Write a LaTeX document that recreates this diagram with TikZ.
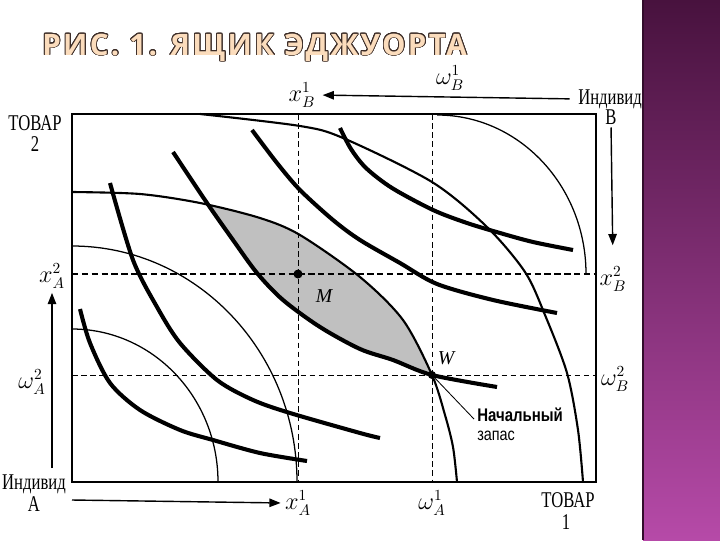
\documentclass[tikz,border=0pt]{standalone}
\usepackage{fontspec}
\usepackage[copies]{contour}
\usetikzlibrary{arrows.meta, positioning}
\setmainfont{Liberation Serif}
\newfontfamily\figfont{Liberation Serif}[FakeStretch=0.74]
\newfontfamily\notefont{Liberation Sans}[FakeStretch=0.82]
\newfontfamily\titlefont{Open Sans}[LetterSpace=8]
\definecolor{bandtop}{RGB}{72,18,62}
\definecolor{bandbot}{RGB}{182,74,168}
\definecolor{titlefill}{RGB}{251,220,188}
\definecolor{titleedge}{RGB}{60,45,40}
\definecolor{lensgray}{RGB}{192,192,192}
\contourlength{0.6pt}
\contournumber{24}

\begin{document}
\begin{tikzpicture}[x=0.025cm, y=-0.025cm,
    thinc/.style={line width=0.9pt},
    medc/.style={line width=1.5pt},
    thickc/.style={line width=2.9pt},
    guide/.style={line width=0.6pt, dash pattern=on 4pt off 2.5pt},
    guidebold/.style={line width=1.1pt, dash pattern=on 4.5pt off 2.5pt},
    axarrow/.style={line width=1pt, -{Triangle[length=8pt,width=6pt]}},
    lbl/.style={font=\figfont\fontsize{16}{18}\selectfont, inner sep=0pt, align=center},
    sym/.style={font=\fontsize{16}{18}\selectfont, inner sep=1pt},
    note/.style={font=\notefont\fontsize{13.5}{15}\selectfont, inner sep=0pt, anchor=west},
]
\useasboundingbox (0,0) rectangle (720,540);

% title
\node[anchor=base west, inner sep=0pt, font=\titlefont\bfseries\fontsize{21}{24}\selectfont]
    (title) at (42,55) {\textcolor{titlefill}{\contour{titleedge}{РИС. 1. ЯЩИК ЭДЖУОРТА}}};

% box corners and guide positions
\coordinate (OA) at (72,482);
\coordinate (OB) at (596,114);
\coordinate (M) at (298,274);
\coordinate (W) at (432,375);

% shaded lens between the two curves through W
\begin{scope}
  \clip plot[smooth] coordinates {(173,152) (207,203) (233,240) (257,273) (283,300) (320,327) (360,349) (393,360) (432,375) (497,387)}
        -- (600,387) -- (600,100) -- (173,100) -- cycle;
  \fill[lensgray] plot[smooth] coordinates {(72,192) (140,194) (200,203) (260,218) (300,235) (360,277) (403,320) (432,375) (445,415) (453,447) (457,482)}
        -- (72,482) -- cycle;
\end{scope}

% guides
\draw[guide] (M |- OB) -- (M |- OA);
\draw[guide] (W |- OB) -- (W |- OA);
\draw[guidebold] (OA |- M) -- (OB |- M);
\draw[guide] (OA |- W) -- (OB |- W);

% box
\draw[line width=1pt] (OA) rectangle (OB);

% curves of B
\draw[medc] plot[smooth] coordinates {(200,114) (300,126) (343,138) (432,182) (487,227) (525,272) (545,315) (567,373) (578,430) (583,482)};
\draw[thinc] (437,115) arc[start angle=-90, end angle=0, x radius=149, y radius=159];
\draw[medc] plot[smooth] coordinates {(72,192) (140,194) (200,203) (260,218) (300,235) (360,277) (403,320) (432,375) (445,415) (453,447) (457,482)};
\draw[thinc] (297,482) arc[start angle=0, end angle=-90, x radius=225, y radius=236];
\draw[thinc] (218,482) arc[start angle=0, end angle=-90, x radius=146, y radius=153];

% curves of A
\draw[thickc] plot[smooth] coordinates {(80,309) (90,343) (110,383) (140,410) (180,430) (213,440) (260,453) (307,461)};
\draw[thickc] plot[smooth] coordinates {(110,183) (133,260) (157,307) (180,343) (217,380) (253,400) (290,413) (360,433) (380,438)};
\draw[thickc] plot[smooth] coordinates {(173,152) (207,203) (233,240) (257,273) (283,300) (320,327) (360,349) (393,360) (432,375) (497,387)};
\draw[thickc] plot[smooth] coordinates {(252,130) (277,163) (300,190) (333,220) (360,240) (400,263) (437,284) (493,300) (557,313)};
\draw[thickc] plot[smooth] coordinates {(340,128) (351,149) (366,168) (392,188) (433,210) (467,223) (500,233) (533,242) (573,250)};

% points
\fill (M) circle (4.5);
\fill (W) circle (4);
\node[sym, font=\fontsize{14}{16}\selectfont\itshape] (Mlbl) at (324,296) {M};
\node[sym, font=\fontsize{14}{16}\selectfont\itshape] (Wlbl) at (446,358) {W};

% endowment note
\node[note, font=\notefont\bfseries\fontsize{13}{15}\selectfont] (endow1) at (477,415) {Начальный};
\node[note, font=\notefont\fontsize{12.5}{14}\selectfont] (endow2) at (477,436) {запас};
\draw[line width=0.6pt, shorten >=3pt] (W) -- (endow1.south west);

% labels of A
\node[lbl] (good2) at (35,123) {ТОВАР};
\node[lbl] (good2n) at (35,144) {2};
\node[lbl] (indA) at (34,484) {Индивид};
\node[lbl] (indAn) at (34,504) {А};
\node[sym] (xA2) at (52,276) {$x^2_A$};
\node[sym] (wA2) at (32,382) {$\omega^2_A$};
\node[sym] (xA1) at (298,503) {$x^1_A$};
\node[sym] (wA1) at (432,503) {$\omega^1_A$};
\node[lbl] (good1) at (568,500) {ТОВАР};
\node[lbl] (good1n) at (566,522) {1};
\coordinate (upA) at (52,468);
\coordinate (rtA) at (72,500);
\draw[axarrow, shorten >=2pt] (upA) -- (xA2.south);
\draw[axarrow, shorten >=2pt] (rtA) -- (xA1.west);

% labels of B
\node[sym] (xB1) at (302,95) {$x^1_B$};
\node[sym] (wB1) at (450,78) {$\omega^1_B$};
\node[lbl, anchor=west] (indB) at (578,99) {Индивид};
\node[lbl] (indBn) at (611,117) {В};
\node[sym] (xB2) at (613,279) {$x^2_B$};
\node[sym] (wB2) at (615,379) {$\omega^2_B$};
\draw[axarrow, shorten <=6pt, shorten >=4pt] (indB.west) -- (xB1.east);
\draw[axarrow, shorten <=2pt, shorten >=14pt] (indBn.south) -- (xB2.north);

% purple band
\shade[top color=bandtop, bottom color=bandbot] (643,0) rectangle (720,540);
\draw[line width=0.8pt, bandtop!70!black] (643,0) -- (643,540);
\end{tikzpicture}
\end{document}
